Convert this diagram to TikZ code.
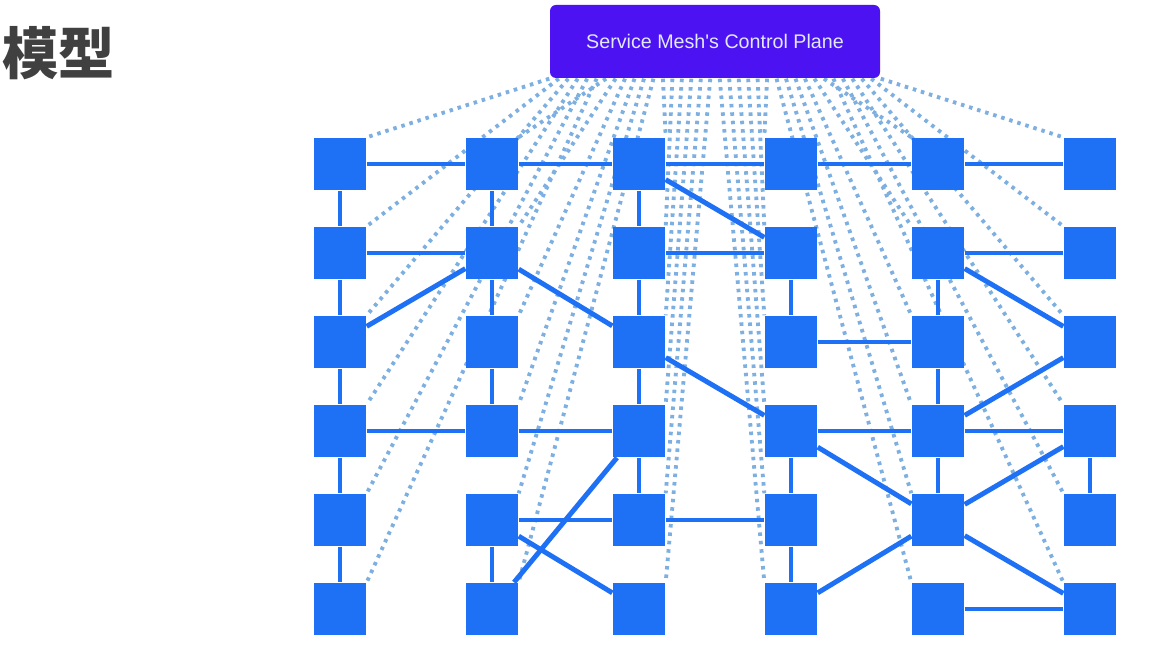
\documentclass[tikz,border=0pt]{standalone}
\usepackage{fontspec}
\newfontfamily\cjk{Noto Sans CJK SC}
\newfontfamily\cpfont{Liberation Sans}
\usetikzlibrary{backgrounds,calc}
\definecolor{proxyblue}{RGB}{30,112,245}
\definecolor{planeviolet}{RGB}{76,18,242}
\definecolor{dotblue}{RGB}{125,175,225}
\definecolor{titlegray}{RGB}{64,64,64}
\tikzset{
  proxy/.style={fill=proxyblue, minimum size=0.52cm, inner sep=0pt},
  link/.style={proxyblue, line width=1.4pt},
  ctrl/.style={dotblue, line width=1.1pt, dash pattern=on 1pt off 1.4pt}
}

\begin{document}
\begin{tikzpicture}
\useasboundingbox (0,0) rectangle (11.58,-6.45);
\node[text=titlegray, font=\cjk\bfseries\fontsize{16}{18}\selectfont] (title) at (0.59,-0.53) {模型};
\node[fill=planeviolet, rounded corners=0.06cm, minimum width=3.3cm, minimum height=0.73cm,
  text={rgb,255:red,225;green,232;blue,255}, font=\cpfont\fontsize{5.6}{7}\selectfont] (cp) at (7.15,-0.415) {Service Mesh's Control Plane};
% proxies, row by column
\foreach \x [count=\c] in {3.40,4.92,6.39,7.91,9.38,10.90}
  \foreach \y [count=\r] in {-1.64,-2.53,-3.42,-4.31,-5.20,-6.09}
    \node[proxy] (p\r\c) at (\x,\y) {};
\begin{pgfonlayer}{background}
% control plane to every proxy
\foreach \c in {1,...,6}
  \foreach \r in {1,...,6} {
    \ifnum\c<4
      \pgfmathsetmacro\f{((\c-1)*6+\r-1)/35}\def\side{north east}
    \else
      \pgfmathsetmacro\f{((\c-1)*6+6-\r)/35}\def\side{north west}
    \fi
    \draw[ctrl] ($(cp.south west)!\f!(cp.south east)$) -- (p\r\c.\side);
  }
\draw[link] (p11)--(p12)--(p13)--(p14)--(p15)--(p16);
\draw[link] (p11)--(p21)--(p31)--(p41)--(p51)--(p61);
\draw[link] (p12)--(p22)--(p32)--(p42);
\draw[link] (p52)--(p62);
\draw[link] (p13)--(p23)--(p33)--(p43)--(p53);
\draw[link] (p24)--(p34);
\draw[link] (p44)--(p54)--(p64);
\draw[link] (p25)--(p35)--(p45)--(p55);
\draw[link] (p46)--(p56);
\draw[link] (p21)--(p22);
\draw[link] (p23)--(p24);
\draw[link] (p25)--(p26);
\draw[link] (p34)--(p35);
\draw[link] (p41)--(p42)--(p43);
\draw[link] (p44)--(p45)--(p46);
\draw[link] (p52)--(p53)--(p54);
\draw[link] (p65)--(p66);
\draw[link] (p13)--(p24);
\draw[link] (p31)--(p22)--(p33)--(p44)--(p55);
\draw[link] (p25)--(p36)--(p45);
\draw[link] (p43)--(p62);
\draw[link] (p52)--(p63);
\draw[link] (p46)--(p55)--(p64);
\draw[link] (p55)--(p66);
\end{pgfonlayer}
\end{tikzpicture}
\end{document}
